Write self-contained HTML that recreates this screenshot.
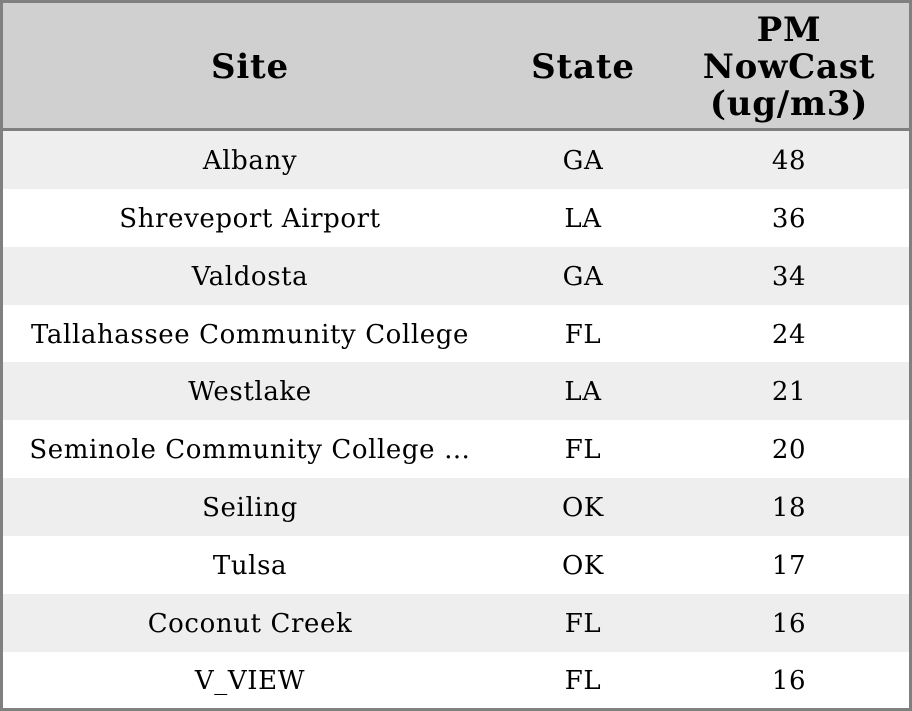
<!DOCTYPE html>
<html><head><style>
body{margin:0;width:912px;height:711px;overflow:hidden;background:#fff;font-family:"DejaVu Serif","DejaVuSerif","Bitstream Vera Serif",serif;}
.box{position:absolute;left:0;top:0;width:906px;height:705px;border:3px solid #808080;}
.hdr{position:absolute;left:0;top:0;width:906px;height:125px;background:#d0d0d0;border-bottom:3px solid #808080;}
.row{position:absolute;left:0;width:906px;height:58px;}
.c{position:absolute;top:0;height:100%;display:flex;align-items:center;justify-content:center;text-align:center;color:#000;white-space:nowrap;box-sizing:border-box;padding-top:2px;}
.h .c{font-weight:bold;font-size:34px;line-height:37px;letter-spacing:0.8px;padding-top:3px;}
.r .c{font-size:26px;letter-spacing:0.6px;}
.c1{left:0;width:494px}.c2{left:494px;width:172px}.c3{left:666px;width:240px}
</style></head><body>
<div class="box">
<div class="hdr h"><div class="c c1">Site</div><div class="c c2">State</div><div class="c c3">PM<br>NowCast<br>(ug/m3)</div></div>
<div class="row r" style="top:128px;background:#eeeeee"><div class="c c1">Albany</div><div class="c c2">GA</div><div class="c c3">48</div></div>
<div class="row r" style="top:186px"><div class="c c1">Shreveport Airport</div><div class="c c2">LA</div><div class="c c3">36</div></div>
<div class="row r" style="top:244px;background:#eeeeee"><div class="c c1">Valdosta</div><div class="c c2">GA</div><div class="c c3">34</div></div>
<div class="row r" style="top:302px"><div class="c c1">Tallahassee Community College</div><div class="c c2">FL</div><div class="c c3">24</div></div>
<div class="row r" style="top:359px;background:#eeeeee"><div class="c c1">Westlake</div><div class="c c2">LA</div><div class="c c3">21</div></div>
<div class="row r" style="top:417px"><div class="c c1">Seminole Community College …</div><div class="c c2">FL</div><div class="c c3">20</div></div>
<div class="row r" style="top:475px;background:#eeeeee"><div class="c c1">Seiling</div><div class="c c2">OK</div><div class="c c3">18</div></div>
<div class="row r" style="top:533px"><div class="c c1">Tulsa</div><div class="c c2">OK</div><div class="c c3">17</div></div>
<div class="row r" style="top:591px;background:#eeeeee"><div class="c c1">Coconut Creek</div><div class="c c2">FL</div><div class="c c3">16</div></div>
<div class="row r" style="top:648px;height:57px"><div class="c c1">V_VIEW</div><div class="c c2">FL</div><div class="c c3">16</div></div>
</div>
</body></html>
